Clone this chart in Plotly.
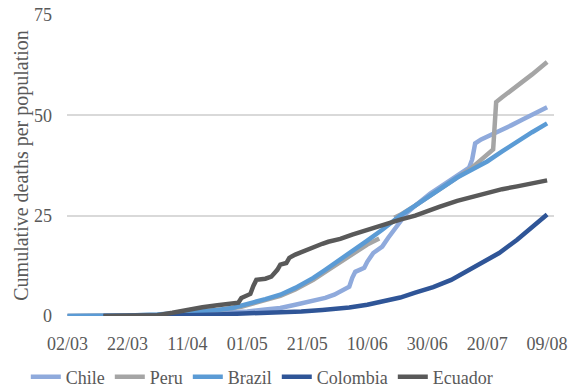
import pandas as pd
import plotly.graph_objects as go

# Day offsets are counted from 02/03/2020; values are cumulative deaths per population
start_date = pd.Timestamp("2020-03-02")

chile_days = [0, 20, 30, 40, 50, 60, 66, 71, 76, 82, 86, 89, 92, 94, 95, 96, 99, 100, 102, 104,
              105, 107, 109, 111, 113, 116, 118, 121, 125, 130, 134, 135, 136, 138, 141, 144,
              148, 152, 156, 160]
chile_values = [0, 0.05, 0.2, 0.4, 0.7, 1.1, 1.6, 2.0, 2.8, 3.7, 4.5, 5.3, 6.5, 7.3, 9.5, 11.0,
                12.0, 13.5, 15.7, 16.8, 17.3, 19.5, 21.5, 23.2, 25.5, 27.5, 28.8, 30.5, 32.5,
                35.0, 37.0, 39.0, 43.0, 44.0, 45.0, 46.2, 47.5, 49.0, 50.5, 52.0]

peru_days = [0, 10, 20, 30, 40, 50, 58, 66, 71, 76, 82, 86, 91, 95, 100, 104, 105, 109, 111,
             116, 121, 126, 130, 135, 142, 143, 145, 150, 155, 160]
peru_values = [0, 0, 0.1, 0.3, 0.8, 1.4, 2.3, 3.9, 5.0, 6.6, 9.0, 11.0, 13.5, 15.5, 17.8, 19.3,
               None, 24.5, 25.2, 27.5, 30.0, 32.5, 34.5, 37.0, 41.5, 53.3, 54.5, 57.2, 60.2, 63.3]

brazil_days = [0, 10, 20, 30, 40, 50, 55, 58, 62, 66, 71, 76, 82, 86, 91, 95, 100, 105, 111,
               116, 121, 126, 130, 135, 140, 145, 150, 155, 160]
brazil_values = [0, 0, 0.1, 0.4, 0.9, 1.5, 2.0, 2.5, 3.4, 4.2, 5.3, 7.0, 9.5, 11.5, 14.0, 16.0,
                 18.8, 21.5, 25.0, 27.5, 30.0, 32.5, 34.5, 36.5, 38.5, 41.0, 43.5, 45.8, 48.0]

colombia_days = [12, 30, 40, 50, 60, 70, 78, 85, 91, 94, 100, 105, 111, 116, 122, 128, 133,
                 138, 144, 150, 155, 160]
colombia_values = [0, 0.05, 0.2, 0.4, 0.6, 0.9, 1.1, 1.5, 1.8, 2.1, 2.8, 3.5, 4.6, 5.8, 7.2,
                   9.0, 11.0, 13.2, 15.7, 19.0, 22.0, 25.3]

ecuador_days = [12, 25, 30, 35, 40, 45, 50, 55, 57, 58, 60, 61, 62, 63, 66, 68, 70, 71, 73, 74,
                76, 79, 82, 85, 87, 91, 95, 100, 105, 111, 116, 121, 124, 130, 135, 140, 145,
                150, 155, 160]
ecuador_values = [0, 0, 0.2, 0.8, 1.6, 2.2, 2.7, 3.2, 3.3, 4.5, 5.2, 5.5, 7.5, 9.0, 9.3, 9.8,
                  11.5, 12.8, 13.2, 14.5, 15.3, 16.3, 17.3, 18.0, 18.5, 19.2, 20.3, 21.5, 22.8,
                  24.0, 25.0, 26.2, 27.2, 28.7, 29.7, 30.7, 31.6, 32.3, 33.0, 33.8]

tick_days = [0, 20, 40, 60, 80, 100, 120, 140, 160]
y_ticks = [0, 25, 50, 75]

series = [
    ("Chile", chile_days, chile_values, "#8FAADC"),
    ("Peru", peru_days, peru_values, "#A5A5A5"),
    ("Brazil", brazil_days, brazil_values, "#5B9BD5"),
    ("Colombia", colombia_days, colombia_values, "#2F5597"),
    ("Ecuador", ecuador_days, ecuador_values, "#595959"),
]


def to_dates(days):
    return [start_date + pd.Timedelta(days=d) for d in days]


fig = go.Figure()
for name, days, values, color in series:
    fig.add_trace(go.Scatter(
        x=to_dates(days), y=values, name=name, mode="lines",
        line=dict(color=color, width=4.5), connectgaps=False,
    ))

text_color = "#595959"
serif = "Times New Roman"
tick_font = dict(family=serif, size=18, color=text_color)
legend_font = dict(family=serif, size=18, color=text_color)
title_font = dict(family=serif, size=20, color=text_color)

fig.update_layout(
    width=571, height=391,
    margin=dict(l=67, r=17, t=15, b=75, autoexpand=False),
    paper_bgcolor="white", plot_bgcolor="white",
    font=tick_font,
    showlegend=True,
    legend=dict(orientation="h", x=0.40, xanchor="center", y=-0.203, yanchor="middle",
                font=legend_font, itemwidth=30, tracegroupgap=0),
    xaxis=dict(
        type="date", automargin=False,
        range=[start_date - pd.Timedelta(hours=4), start_date + pd.Timedelta(days=162.3)],
        tickvals=to_dates(tick_days), tickformat="%d/%m",
        showgrid=False, zeroline=False, showline=False, ticks="",
        ticklabelstandoff=15,
        tickfont=tick_font,
    ),
    yaxis=dict(
        range=[0, 75], tickvals=y_ticks, automargin=False,
        showgrid=True, gridcolor="#D9D9D9", gridwidth=1.5,
        zeroline=False, showline=False, ticks="",
        ticklabelstandoff=14,
        tickfont=tick_font,
        title=dict(text="Cumulative deaths per population", font=title_font, standoff=0),
    ),
)

fig.write_html("out.html")
